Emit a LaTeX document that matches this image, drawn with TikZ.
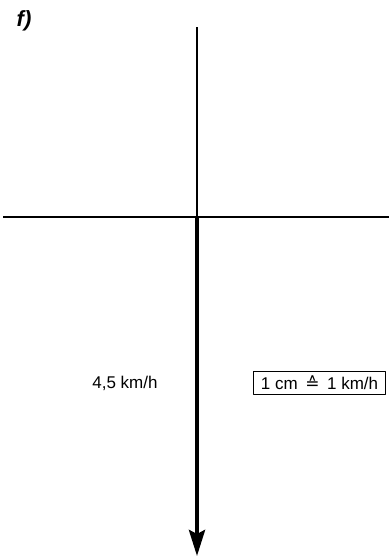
\documentclass[tikz,border=0pt]{standalone}
\usepackage{amsmath,amssymb}
\usepackage{fontspec}
\setsansfont{Liberation Sans}
\newfontfamily\symfont{DejaVu Sans}
\usetikzlibrary{arrows.meta}

\begin{document}
\begin{tikzpicture}[x=1pt, y=-1pt, line join=round, font=\sffamily\fontsize{17}{20}\selectfont]
	\useasboundingbox (0,0) rectangle (389,557);
	% Teilaufgabe
	\node[font=\sffamily\bfseries\itshape\fontsize{22}{25}\selectfont] (f) at (24,21) {f)};
	% Achsen
	\coordinate (O) at (197,217);
	\coordinate (L) at (3,217);
	\coordinate (R) at (389,217);
	\coordinate (T) at (197,27);
	\coordinate (S) at (197,556);
	\draw[line width=1.6pt] (L) -- (R);
	\draw[line width=1.3pt] (O) -- (T);
	% Geschwindigkeitspfeil
	\draw[line width=4pt, -{Stealth[length=26pt, width=16pt, inset=4pt]}] (O) -- (S);
	\node (v) at (125,383) {4,5 km/h};
	% Maßstab
	\node[draw, line width=0.8pt, inner sep=2pt, minimum width=132pt, minimum height=23pt] (scale) at (319.5,382.5)
		{1 cm\, {\symfont ≙}\, 1 km/h};
\end{tikzpicture}
\end{document}
